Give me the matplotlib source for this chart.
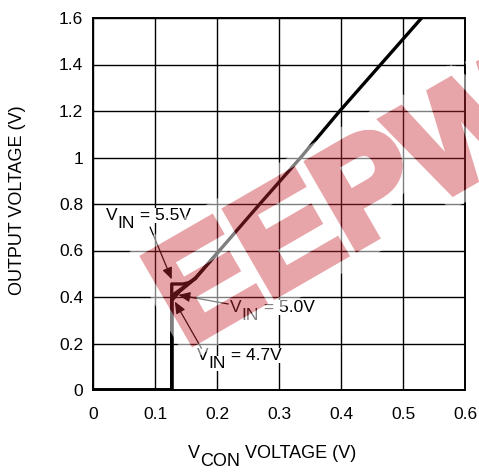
import numpy as np
import matplotlib
matplotlib.use("Agg")
import matplotlib.pyplot as plt
import matplotlib.transforms as mtransforms
from matplotlib.textpath import TextPath
from matplotlib.font_manager import FontProperties
from matplotlib.patches import PathPatch

plt.rcParams["font.family"] = ["Liberation Sans", "DejaVu Sans"]

# =========================
# Data
# =========================
vcon_55 = [0, 0.127, 0.127, 0.145, 0.155, 0.165, 0.204, 0.269, 0.335, 0.398, 0.464, 0.530]
vout_55 = [0, 0, 0.456, 0.456, 0.462, 0.48, 0.6, 0.8, 1.0, 1.2, 1.4, 1.6]

vcon_50 = [0, 0.127, 0.127, 0.145, 0.165, 0.204]
vout_50 = [0, 0, 0.405, 0.44, 0.48, 0.6]

vcon_47 = [0, 0.127, 0.127, 0.14, 0.165]
vout_47 = [0, 0, 0.385, 0.425, 0.48]

x_ticks = [0, 0.1, 0.2, 0.3, 0.4, 0.5, 0.6]
x_tick_labels = ["0", "0.1", "0.2", "0.3", "0.4", "0.5", "0.6"]
y_ticks = [0, 0.2, 0.4, 0.6, 0.8, 1.0, 1.2, 1.4, 1.6]
y_tick_labels = ["0", "0.2", "0.4", "0.6", "0.8", "1", "1.2", "1.4", "1.6"]

# label text, label position, arrow start, arrow tip
curve_labels = ["5.5V", "5.0V", "4.7V"]
label_pos = [(0.021, 0.731), (0.221, 0.334), (0.168, 0.129)]
arrow_start = [(0.092, 0.701), (0.218, 0.370), (0.175, 0.179)]
arrow_tip = [(0.127, 0.476), (0.1376, 0.409), (0.132, 0.380)]

WM_PINK = np.array([200, 40, 50]) / 255
WM_HALO = 11  # px


def sub_text(ax, x, y, main, sub, rest, transform, fontsize=12.5, drop=5.8, boxed=False):
    """
    Ghép chữ kiểu V_IN: chỉ số dưới cùng cỡ chữ, hạ xuống một đoạn.
    """
    kw = dict(fontsize=fontsize, color="black")
    if boxed:
        kw["bbox"] = dict(facecolor="white", edgecolor="none", pad=0)
    t1 = ax.text(x, y, main, transform=transform, ha="left", va="baseline", **kw)
    t2 = ax.annotate(sub, xy=(1, 0), xycoords=t1, xytext=(0, -drop),
                     textcoords="offset points", ha="left", va="bottom", **kw)
    ax.annotate(rest, xy=(1, 0), xycoords=t2, xytext=(0, drop),
                textcoords="offset points", ha="left", va="bottom", **kw)


def watermark_filter(img, dpi):
    """
    Chữ hồng trong suốt + viền trắng mờ bên ngoài chữ (vẽ chung một lớp).
    """
    pad = WM_HALO + 2
    a = np.pad(img[..., 3], pad)
    h = a.copy()
    r = WM_HALO
    for dy in range(-r, r + 1):
        for dx in range(-r, r + 1):
            if dx * dx + dy * dy <= r * r:
                h = np.maximum(h, np.roll(np.roll(a, dy, 0), dx, 1))
    wa = 0.42 * a
    ha = 0.5 * h * (1 - a)
    alpha = wa + ha
    out = np.zeros(a.shape + (4,))
    out[..., :3] = (WM_PINK * wa[..., None] + ha[..., None]) / np.maximum(alpha, 1e-6)[..., None]
    out[..., 3] = alpha
    return out, -pad, -pad


def add_watermark(fig, ax):
    fp = FontProperties(family="Liberation Sans", weight="bold")
    path = TextPath((0, 0), "EEPW", size=1, prop=fp)
    trans = (mtransforms.Affine2D().scale(1.42).rotate_deg(30)
             + fig.dpi_scale_trans
             + mtransforms.ScaledTranslation(0.149, 0.186, ax.transData))
    wm = PathPatch(path, transform=trans, facecolor=WM_PINK, edgecolor=WM_PINK,
                   lw=5.8, joinstyle="miter", zorder=20)
    wm.set_agg_filter(watermark_filter)
    fig.add_artist(wm)


fig = plt.figure(figsize=(4.79, 4.74), dpi=100)
ax = fig.add_axes([93 / 479, 84 / 474, 372 / 479, 372 / 474])

ax.set_xlim(0, 0.6)
ax.set_ylim(0, 1.6)
ax.set_xticks(x_ticks, x_tick_labels)
ax.set_yticks(y_ticks, y_tick_labels)
ax.tick_params(axis="both", length=0, labelsize=12.5)
ax.tick_params(axis="x", pad=12)
ax.tick_params(axis="y", pad=7)
ax.grid(True, color="black", lw=1.0)
ax.set_axisbelow(True)
for sp in ax.spines.values():
    sp.set_linewidth(1.4)

for vx, vy in [(vcon_47, vout_47), (vcon_50, vout_50), (vcon_55, vout_55)]:
    ax.plot(vx, vy, color="black", lw=2.4, solid_joinstyle="round", zorder=3)

for name, pos, start, tip in zip(curve_labels, label_pos, arrow_start, arrow_tip):
    sub_text(ax, pos[0], pos[1], "V", "IN", " = " + name, ax.transData, boxed=True)
    ax.annotate("", xy=tip, xytext=start,
                arrowprops=dict(arrowstyle="-|>,head_length=0.7,head_width=0.3",
                                color="black", lw=0.9, shrinkA=0, shrinkB=0),
                zorder=4)

# axis titles
fig.text(18 / 479, 274 / 474, "OUTPUT VOLTAGE (V)", rotation=90,
         ha="center", va="center", fontsize=13)
sub_text(ax, 188 / 479, 16 / 474, "V", "CON", " VOLTAGE (V)", fig.transFigure,
         fontsize=13, drop=5.5)

add_watermark(fig, ax)

fig.savefig("out.png", dpi=100)
